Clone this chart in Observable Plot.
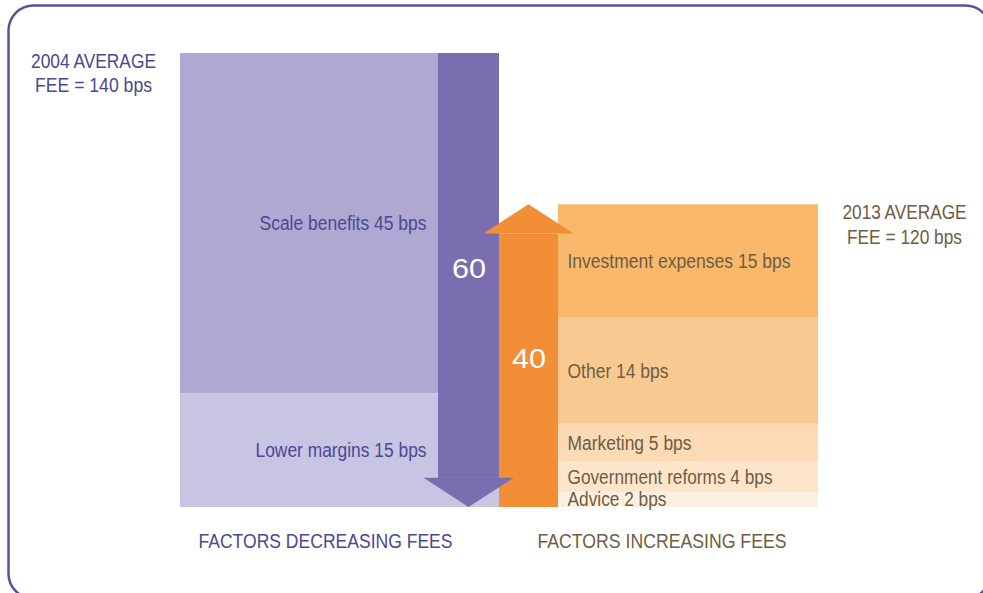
<!DOCTYPE html>
<html>
<head>
<meta charset="utf-8">
<script src="https://cdn.jsdelivr.net/npm/d3@7"></script>
<script src="https://cdn.jsdelivr.net/npm/@observablehq/plot@0.6"></script>
<style>
  html, body { margin: 0; padding: 0; background: #fff; }
  #chart svg { display: block; }
</style>
</head>
<body>
<div id="chart"></div>
<script>
// ---- data ----
const years = [2004, 2013];
const averageFees = [140, 120];
const decreaseFactors = ["Scale benefits", "Lower margins"];
const decreaseValues = [45, 15];
const increaseFactors = ["Investment expenses", "Other", "Marketing", "Government reforms", "Advice"];
const increaseValues = [15, 14, 5, 4, 2];
const groupLabels = ["FACTORS DECREASING FEES", "FACTORS INCREASING FEES"];

// ---- colours ----
const decreaseColors = ["#afa8d2", "#c8c4e3"];
const increaseColors = ["#f9b86b", "#f9c992", "#fcdab5", "#fde5cb", "#fef0e1"];
const purpleArrow = "#7b6eb0";
const orangeArrow = "#f18e36";
const purpleText = "#4c4990";
const brownText = "#6e5d42";

// ---- condensed text widths (style, px) to mimic a narrow typeface ----
const textWidths = {
  "2004 AVERAGE": 125, "FEE = 140 bps": 117, "2013 AVERAGE": 124, "FEE = 120 bps": 115,
  "Scale benefits 45 bps": 167, "Lower margins 15 bps": 171,
  "Investment expenses 15 bps": 223, "Other 14 bps": 101, "Marketing 5 bps": 124,
  "Government reforms 4 bps": 205, "Advice 2 bps": 99,
  "FACTORS DECREASING FEES": 254, "FACTORS INCREASING FEES": 249,
  "60": 34, "40": 34
};

const totalDecrease = d3.sum(decreaseValues);   // 60
const totalIncrease = d3.sum(increaseValues);   // 40

// ---- layout (x in layout units) ----
const blockW = 258, headHalf = 45, headH = 3.85;
const xL0 = 0, xArrowD0 = blockW, xArrowD1 = blockW + 61;
const xArrowU0 = xArrowD1, xArrowU1 = xArrowU0 + 59;
const xR0 = xArrowU1, xR1 = xR0 + 260;

// stacked segments (top down)
let cursor = totalDecrease;
const decRows = decreaseFactors.map((f, i) => {
  const r = {label: `${f} ${decreaseValues[i]} bps`, y1: cursor - decreaseValues[i], y2: cursor, fill: decreaseColors[i]};
  cursor -= decreaseValues[i];
  return r;
});
cursor = totalIncrease;
const incRows = increaseFactors.map((f, i) => {
  const r = {label: `${f} ${increaseValues[i]} bps`, y1: cursor - increaseValues[i], y2: cursor, fill: increaseColors[i]};
  cursor -= increaseValues[i];
  return r;
});

const dCx = (xArrowD0 + xArrowD1) / 2;
const uCx = (xArrowU0 + xArrowU1) / 2;
const downHead = [
  {x: dCx - headHalf, y1: headH, y2: headH},
  {x: dCx, y1: headH, y2: 0},
  {x: dCx + headHalf, y1: headH, y2: headH}
];
const upHead = [
  {x: uCx - headHalf, y1: totalIncrease - headH, y2: totalIncrease - headH},
  {x: uCx, y1: totalIncrease - headH, y2: totalIncrease},
  {x: uCx + headHalf, y1: totalIncrease - headH, y2: totalIncrease - headH}
];

const font = "'Liberation Sans', Arial, sans-serif";

const chart = Plot.plot({
  width: 983,
  height: 593,
  marginLeft: 180,
  marginRight: 165,
  marginTop: 53,
  marginBottom: 86,
  x: {type: "linear", domain: [0, 638], axis: null},
  y: {type: "linear", domain: [0, totalDecrease], axis: null},
  style: {fontFamily: font, background: "#fff", overflow: "hidden"},
  marks: [
    Plot.frame({stroke: "#5a5198", strokeWidth: 2.5, rx: 25,
      insetLeft: -172, insetRight: -172, insetTop: -48, insetBottom: -91}),
    // left blocks
    Plot.rect(decRows, {x1: xL0, x2: xArrowD1, y1: "y1", y2: "y2", fill: "fill"}),
    // right blocks
    Plot.rect(incRows, {x1: xR0, x2: xR1, y1: "y1", y2: "y2", fill: "fill"}),
    // purple arrow shaft
    Plot.rect([totalDecrease], {x1: xArrowD0, x2: xArrowD1, y1: headH, y2: d => d, fill: purpleArrow}),
    // orange arrow shaft + head
    Plot.rect([totalIncrease], {x1: xArrowU0, x2: xArrowU1, y1: 0, y2: d => d - headH, fill: orangeArrow}),
    Plot.areaY(upHead, {x: "x", y1: "y1", y2: "y2", fill: orangeArrow}),
    // purple arrow head
    Plot.areaY(downHead, {x: "x", y1: "y1", y2: "y2", fill: purpleArrow}),
    // segment labels
    Plot.text(decRows, {x: xArrowD0 - 12, y: d => (d.y1 + d.y2) / 2, text: "label", textAnchor: "end",
      fill: purpleText, fontSize: 20}),
    Plot.text(incRows, {x: xR0 + 9, y: d => (d.y1 + d.y2) / 2, text: "label", textAnchor: "start",
      fill: brownText, fontSize: 20}),
    // arrow totals
    Plot.text([totalDecrease], {x: dCx, y: d => d * 0.525, text: d => String(d), fill: "#fff", fontSize: 27}),
    Plot.text([totalIncrease], {x: uCx, y: d => d * 0.49, text: d => String(d), fill: "#fff", fontSize: 27}),
    // average fee labels
    Plot.text([0], {x: -87, y: totalDecrease, text: () => `${years[0]} AVERAGE\nFEE = ${averageFees[0]} bps`,
      lineAnchor: "top", dy: -3, fill: purpleText, fontSize: 20, lineHeight: 1.2}),
    Plot.text([0], {x: xR1 + 86, y: totalIncrease, text: () => `${years[1]} AVERAGE\nFEE = ${averageFees[1]} bps`,
      lineAnchor: "top", dy: -4, fill: brownText, fontSize: 20, lineHeight: 1.25}),
    // group labels
    Plot.text([0], {x: 145, y: 0, dy: 34, text: () => groupLabels[0], fill: purpleText, fontSize: 20}),
    Plot.text([0], {x: (xR0 + xR1) / 2 - 26.5, y: 0, dy: 34, text: () => groupLabels[1], fill: brownText, fontSize: 20})
  ]
});

// condense glyphs to the narrow look of the original typeface
d3.select(chart).selectAll("text").each(function () {
  const tspans = this.querySelectorAll("tspan");
  const nodes = tspans.length ? Array.from(tspans) : [this];
  for (const n of nodes) {
    const w = textWidths[n.textContent.trim()];
    if (w) {
      n.setAttribute("textLength", w);
      n.setAttribute("lengthAdjust", "spacingAndGlyphs");
    }
  }
});
document.getElementById("chart").appendChild(chart);
</script>
</body>
</html>
